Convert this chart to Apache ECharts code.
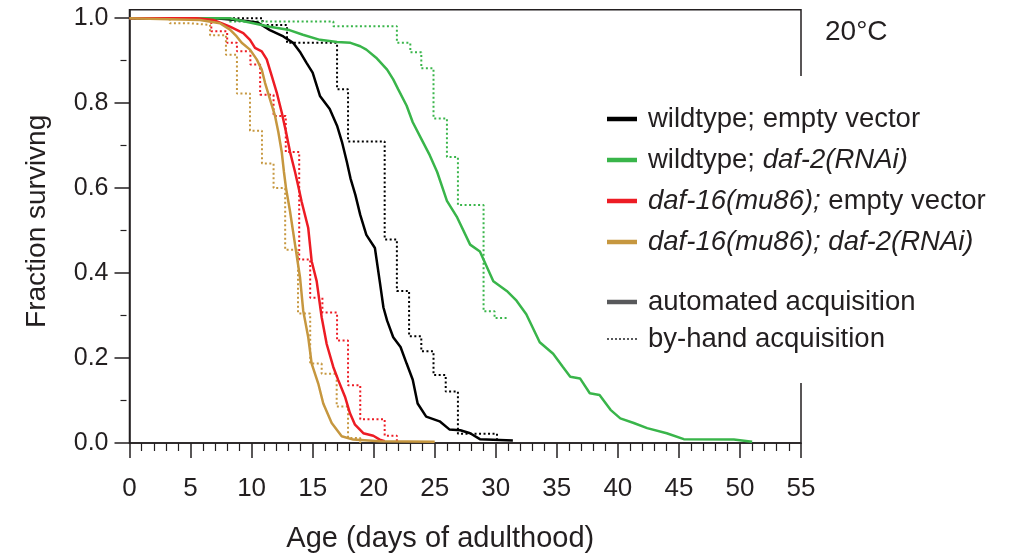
<!DOCTYPE html>
<html><head><meta charset="utf-8">
<script src="https://cdn.jsdelivr.net/npm/echarts@6/dist/echarts.min.js"></script>
<style>html,body{margin:0;padding:0;background:#fff}#c{width:1010px;height:558px}</style>
</head><body><div id="c"></div>
<script>
// ---- tick labels ----
const xTickValues = [0,5,10,15,20,25,30,35,40,45,50,55];
const yTickValues = [0,0.2,0.4,0.6,0.8,1.0];
const yMinorTickValues = [0.1,0.3,0.5,0.7,0.9];

// ---- legend / category names ----
const groupNames = ['wildtype; empty vector','wildtype; daf-2(RNAi)','daf-16(mu86); empty vector','daf-16(mu86); daf-2(RNAi)'];
const acquisitionNames = ['automated acquisition','by-hand acquisition'];

// ---- automated acquisition (days, fraction surviving) ----
const wtEvAutoDays = [0,7,9,10.5,11.5,12.6,13.4,14,14.5,15,15.6,16.4,17,17.4,17.8,18.1,18.5,18.9,19.4,20.1,20.5,20.8,21.1,21.6,22.2,22.7,23.2,23.6,24.3,25.4,26.2,27.1,27.9,28.7,31.4];
const wtEvAutoSurv = [1,1,0.995,0.99,0.972,0.957,0.942,0.919,0.895,0.872,0.817,0.786,0.747,0.709,0.662,0.623,0.584,0.537,0.49,0.459,0.38,0.319,0.288,0.249,0.226,0.187,0.149,0.093,0.062,0.051,0.032,0.03,0.023,0.009,0.006];

const wtDaf2AutoDays = [0,8.2,11.5,13.1,14.2,15.6,17,18.1,18.9,19.4,20.2,21.1,21.6,22,22.7,23.2,23.9,24.6,25.2,26,26.8,27.9,28.7,29.8,30.9,31.7,32.5,33.6,34.7,35.5,36.1,36.9,37.7,38.5,39.4,40.2,41.3,42.4,44,45.4,49.5,51];
const wtDaf2AutoSurv = [1,1,0.98,0.972,0.961,0.949,0.944,0.942,0.934,0.926,0.907,0.879,0.856,0.833,0.794,0.755,0.716,0.677,0.638,0.57,0.533,0.467,0.451,0.381,0.358,0.335,0.303,0.237,0.21,0.179,0.156,0.152,0.117,0.113,0.078,0.058,0.047,0.035,0.023,0.009,0.008,0.003];

const daf16EvAutoDays = [0,5.5,6.86,8.23,9.32,9.87,10.28,10.83,11.24,11.65,12.06,12.47,12.82,13.15,13.56,13.82,14.1,14.64,14.92,15.33,15.74,16.15,16.69,17.1,17.65,18.06,18.47,19.15,19.97,20.5,20.9];
const daf16EvAutoSurv = [1,1,0.996,0.98,0.965,0.949,0.93,0.922,0.903,0.864,0.825,0.778,0.732,0.685,0.638,0.605,0.568,0.506,0.428,0.381,0.296,0.233,0.179,0.148,0.109,0.07,0.043,0.023,0.017,0.008,0.004];

const daf16Daf2AutoDays = [0,5.77,7.41,8.23,8.78,9.19,9.87,10.42,10.83,11.1,11.51,11.92,12.19,12.47,12.65,12.82,13.15,13.56,13.97,14.23,14.64,14.92,15.46,15.87,16.56,17.38,18.33,20.5,25];
const daf16Daf2AutoSurv = [1,0.996,0.988,0.973,0.957,0.942,0.926,0.903,0.879,0.848,0.809,0.77,0.732,0.685,0.638,0.6,0.545,0.467,0.389,0.311,0.249,0.187,0.14,0.093,0.047,0.016,0.008,0.004,0.003];

// ---- by-hand acquisition (step curves) ----
const wtEvHandDays = [0,10.9,12.9,17.0,17.9,20.9,21.9,22.9,23.9,24.9,25.9,26.9,30.1];
const wtEvHandSurv = [1,0.984,0.942,0.833,0.71,0.479,0.358,0.251,0.216,0.16,0.121,0.022,0];

const wtDaf2HandDays = [0,8.2,16.7,21.9,23.0,23.9,24.9,26.0,26.9,29.0,29.9,30.9];
const wtDaf2HandSurv = [1,0.992,0.981,0.942,0.92,0.882,0.764,0.673,0.56,0.31,0.294,0.294];

const daf16EvHandDays = [0,6.7,8.0,8.8,9.9,10.7,11.8,12.8,13.9,14.8,15.8,17.0,17.9,18.9,20.9,21.9];
const daf16EvHandSurv = [1,0.969,0.942,0.922,0.891,0.82,0.77,0.685,0.432,0.342,0.307,0.241,0.136,0.056,0.017,0];

const daf16Daf2HandDays = [0,3.3,5.0,6.6,7.9,8.8,9.87,10.85,11.8,12.75,13.8,14.8,15.74,16.97,17.9,18.9];
const daf16Daf2HandSurv = [1,0.988,0.984,0.96,0.914,0.823,0.735,0.658,0.6,0.455,0.305,0.187,0.163,0.086,0.012,0];

const colors = ['#000000','#39b54a','#ed1c24','#c6973f'];
const legendGray = '#58595b';
const ink = '#231f20';
const FONT = 'Liberation Sans, Arial, sans-serif';
const dottedIcon = 'path://M0,0h2v2h-2zM4,0h2v2h-2zM8,0h2v2h-2zM12,0h2v2h-2zM16,0h2v2h-2zM20,0h2v2h-2zM24,0h2v2h-2zM28,0h2v2h-2z';

function pairs(xs, ys){ return xs.map((x,i)=>[x, ys[i]]); }

const autoSets = [[wtEvAutoDays,wtEvAutoSurv],[wtDaf2AutoDays,wtDaf2AutoSurv],[daf16EvAutoDays,daf16EvAutoSurv],[daf16Daf2AutoDays,daf16Daf2AutoSurv]];
const handSets = [[wtEvHandDays,wtEvHandSurv],[wtDaf2HandDays,wtDaf2HandSurv],[daf16EvHandDays,daf16EvHandSurv],[daf16Daf2HandDays,daf16Daf2HandSurv]];

const series = [];
handSets.forEach((s,i)=>{
  series.push({type:'line', name: groupNames[i]+' (by hand)', data: pairs(s[0],s[1]), step:'end',
    symbol:'none', showSymbol:false, silent:true, z:2,
    lineStyle:{color:colors[i], width:2, type:[2,2.5]}, itemStyle:{color:colors[i]}});
});
autoSets.forEach((s,i)=>{
  series.push({type:'line', name: groupNames[i], data: pairs(s[0],s[1]),
    symbol:'none', showSymbol:false, silent:true, z:3,
    lineStyle:{color:colors[i], width:2.5}, itemStyle:{color:colors[i]}});
});
series.push({type:'line', name: acquisitionNames[0], data: [], symbol:'none', lineStyle:{color:legendGray, width:4}, itemStyle:{color:legendGray}});
series.push({type:'line', name: acquisitionNames[1], data: [], symbol:'none', lineStyle:{color:legendGray, width:2, type:[2,2]}, itemStyle:{color:legendGray}});

const LFS = 27.5;
const legendRich = { n:{fontSize:LFS, fontFamily:FONT, color:ink}, i:{fontSize:LFS, fontFamily:FONT, color:ink, fontStyle:'italic'} };
const legendLabels = {
  'wildtype; empty vector': '{n|wildtype; empty vector}',
  'wildtype; daf-2(RNAi)': '{n|wildtype; }{i|daf-2(RNAi)}',
  'daf-16(mu86); empty vector': '{i|daf-16(mu86);}{n| empty vector}',
  'daf-16(mu86); daf-2(RNAi)': '{i|daf-16(mu86); daf-2(RNAi)}',
  'automated acquisition': '{n|automated acquisition}',
  'by-hand acquisition': '{n|by-hand acquisition}'
};

const option = {
  animation:false,
  backgroundColor:'#ffffff',
  title:{ text:'20°C', left:820, top:13, textStyle:{fontSize:28, fontWeight:'normal', color:ink, fontFamily:FONT} },
  grid:{ left:129.5, right:209, top:9.7, bottom:111.3, show:true, borderColor:ink, borderWidth:1.5, backgroundColor:'transparent' },
  xAxis:{ type:'value', min:0, max:55, interval:5,
    name:'Age (days of adulthood)', nameLocation:'middle', nameGap:81,
    nameTextStyle:{fontSize:29, color:ink, fontFamily:FONT, padding:[0,50,0,0]},
    axisLine:{lineStyle:{color:ink, width:1.5}},
    axisTick:{length:15, lineStyle:{color:ink, width:1.5}},
    minorTick:{show:true, splitNumber:5, length:8, lineStyle:{color:ink, width:1.2}},
    axisLabel:{fontSize:26, color:ink, fontFamily:FONT, margin:33},
    splitLine:{show:false}, minorSplitLine:{show:false} },
  yAxis:[
    { type:'value', min:0, max:1.02, position:'left',
      name:'Fraction survivng', nameLocation:'middle', nameGap:78,
      nameTextStyle:{fontSize:28, color:ink, fontFamily:FONT, padding:[0,0,0,10]},
      axisLine:{show:true, lineStyle:{color:ink, width:1.5}},
      axisTick:{show:true, length:15, customValues:yTickValues, lineStyle:{color:ink, width:1.5}},
      axisLabel:{customValues:yTickValues, fontSize:25, color:ink, fontFamily:FONT, margin:21, formatter:v=>v.toFixed(1)},
      splitLine:{show:false} },
    { type:'value', min:0, max:1.02, position:'left', offset:3,
      axisLine:{show:false},
      axisTick:{show:true, length:6, customValues:yMinorTickValues, lineStyle:{color:ink, width:1.2}},
      axisLabel:{show:false}, splitLine:{show:false} }
  ],
  legend:[
    { data: groupNames.map(n=>({name:n, icon:'rect'})), orient:'vertical', left:600, top:76, padding:[28,12,0,7], itemGap:11,
      itemWidth:30, itemHeight:4.5, selectedMode:false, backgroundColor:'#ffffff',
      formatter: n=>legendLabels[n],
      textStyle:{fontSize:LFS, color:ink, fontFamily:FONT, lineHeight:30, padding:[0,0,0,6], rich:legendRich} },
    { data: [{name:acquisitionNames[0], icon:'rect'}, {name:acquisitionNames[1], icon:dottedIcon}], orient:'vertical', left:600, top:256, padding:[31,12,29,7], itemGap:7,
      itemWidth:30, itemHeight:4.5, symbolKeepAspect:true, selectedMode:false, backgroundColor:'#ffffff',
      itemStyle:{color:legendGray},
      formatter: n=>legendLabels[n],
      textStyle:{fontSize:LFS, color:ink, fontFamily:FONT, lineHeight:30, padding:[0,0,0,6], rich:legendRich} }
  ],
  series: series
};
const chart = echarts.init(document.getElementById('c'), null, {renderer:'canvas'});
chart.setOption(option);
</script>
</body></html>
